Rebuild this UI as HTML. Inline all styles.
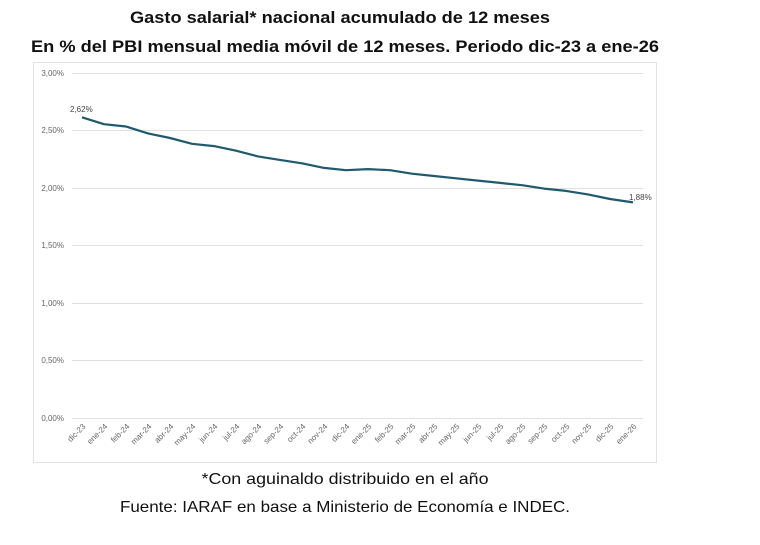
<!DOCTYPE html>
<html><head><meta charset="utf-8"><style>
html,body{margin:0;padding:0;background:#fff;}
svg{display:block;font-family:"Liberation Sans",sans-serif;}
</style></head><body>
<svg width="760" height="545" viewBox="0 0 760 545" xmlns="http://www.w3.org/2000/svg">
<text x="340" y="23" text-anchor="middle" font-size="17" font-weight="bold" textLength="420" lengthAdjust="spacingAndGlyphs" fill="#111">Gasto salarial* nacional acumulado de 12 meses</text>
<text x="345" y="52" text-anchor="middle" font-size="17" font-weight="bold" textLength="628" lengthAdjust="spacingAndGlyphs" fill="#111">En % del PBI mensual media móvil de 12 meses. Periodo dic-23 a ene-26</text>
<rect x="33.5" y="62.5" width="623" height="400" fill="#fff" stroke="#e2e2e2"/>
<g stroke="#e0e0e0" stroke-width="1">
<line x1="72" x2="643" y1="73.5" y2="73.5"/><line x1="72" x2="643" y1="130.5" y2="130.5"/>
<line x1="72" x2="643" y1="188.5" y2="188.5"/><line x1="72" x2="643" y1="245.5" y2="245.5"/>
<line x1="72" x2="643" y1="303.5" y2="303.5"/><line x1="72" x2="643" y1="360.5" y2="360.5"/>
<line x1="72" x2="643" y1="418.5" y2="418.5"/>
</g>
<g font-size="8" fill="#666" text-anchor="end">
<text x="64" y="76">3,00%</text><text x="64" y="133">2,50%</text><text x="64" y="191">2,00%</text>
<text x="64" y="248">1,50%</text><text x="64" y="306">1,00%</text><text x="64" y="363">0,50%</text><text x="64" y="421">0,00%</text>
</g>
<polyline fill="none" stroke="#1f5a6e" stroke-width="2.2" stroke-linejoin="round" points="82,117.3 104,124.2 126,126.5 148,133.4 170,138 192,143.8 214,146.1 236,150.7 258,156.4 280,159.9 302,163.3 324,167.9 346,170.2 368,169.1 390,170.2 412,173.7 434,176 456,178.3 478,180.6 500,182.9 522,185.2 544,188.6 566,190.9 588,194.4 610,199 633,202.4"/>
<text x="70" y="112" font-size="8" fill="#444">2,62%</text>
<text x="629" y="200" font-size="8" fill="#444">1,88%</text>
<g font-size="8" fill="#666" text-anchor="end">
<text transform="translate(86,427) rotate(-45)">dic-23</text>
<text transform="translate(108,427) rotate(-45)">ene-24</text>
<text transform="translate(130,427) rotate(-45)">feb-24</text>
<text transform="translate(152,427) rotate(-45)">mar-24</text>
<text transform="translate(174,427) rotate(-45)">abr-24</text>
<text transform="translate(196,427) rotate(-45)">may-24</text>
<text transform="translate(218,427) rotate(-45)">jun-24</text>
<text transform="translate(240,427) rotate(-45)">jul-24</text>
<text transform="translate(262,427) rotate(-45)">ago-24</text>
<text transform="translate(284,427) rotate(-45)">sep-24</text>
<text transform="translate(306,427) rotate(-45)">oct-24</text>
<text transform="translate(328,427) rotate(-45)">nov-24</text>
<text transform="translate(350,427) rotate(-45)">dic-24</text>
<text transform="translate(372,427) rotate(-45)">ene-25</text>
<text transform="translate(394,427) rotate(-45)">feb-25</text>
<text transform="translate(416,427) rotate(-45)">mar-25</text>
<text transform="translate(438,427) rotate(-45)">abr-25</text>
<text transform="translate(460,427) rotate(-45)">may-25</text>
<text transform="translate(482,427) rotate(-45)">jun-25</text>
<text transform="translate(504,427) rotate(-45)">jul-25</text>
<text transform="translate(526,427) rotate(-45)">ago-25</text>
<text transform="translate(548,427) rotate(-45)">sep-25</text>
<text transform="translate(570,427) rotate(-45)">oct-25</text>
<text transform="translate(592,427) rotate(-45)">nov-25</text>
<text transform="translate(614,427) rotate(-45)">dic-25</text>
<text transform="translate(637,427) rotate(-45)">ene-26</text>
</g>
<text x="345" y="484" text-anchor="middle" font-size="16" textLength="287" lengthAdjust="spacingAndGlyphs" fill="#111">*Con aguinaldo distribuido en el año</text>
<text x="345" y="512" text-anchor="middle" font-size="16" textLength="450" lengthAdjust="spacingAndGlyphs" fill="#111">Fuente: IARAF en base a Ministerio de Economía e INDEC.</text>
</svg>
</body></html>
